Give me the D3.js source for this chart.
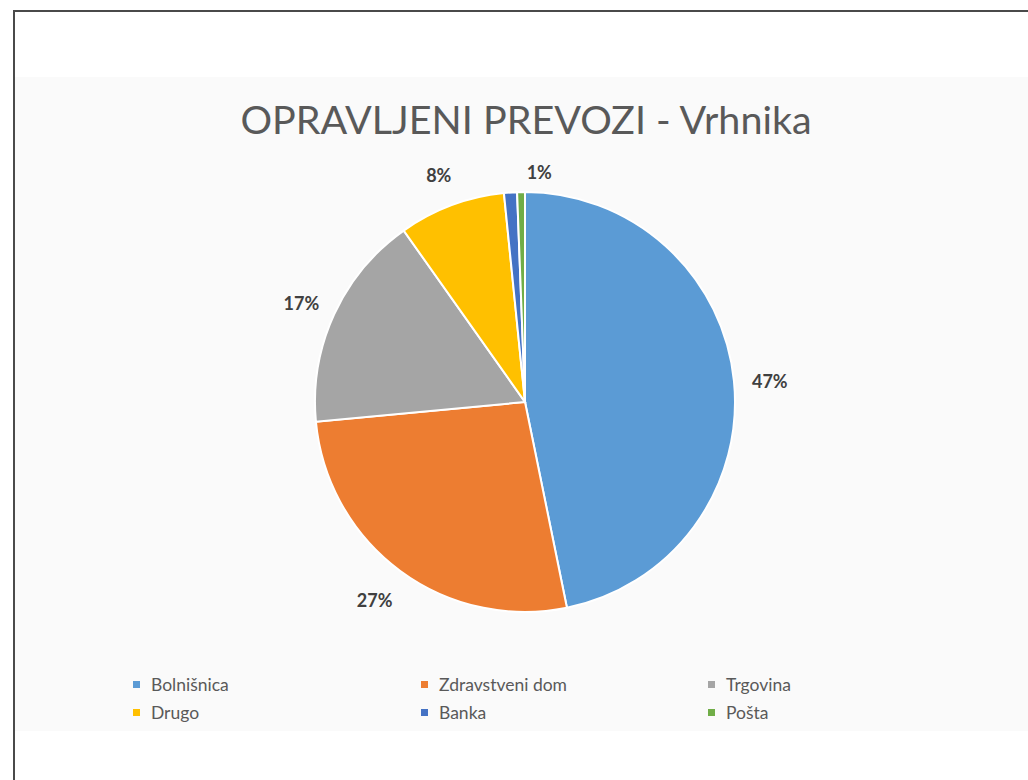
<!DOCTYPE html>
<html>
<head>
<meta charset="utf-8">
<script src="https://cdn.jsdelivr.net/npm/d3@7"></script>
<style>
  body { margin: 0; background: #fff; }
  svg { display: block; }
</style>
</head>
<body>
<div id="chart"></div>
<script>
// data (share of rides, %)
const categories = ["Bolnišnica", "Zdravstveni dom", "Trgovina", "Drugo", "Banka", "Pošta"];
const values = [46.8, 26.7, 16.7, 8.2, 1.0, 0.6];
const labels = ["47%", "27%", "17%", "8%", "1%", ""];
const colors = ["#5b9bd5", "#ed7d31", "#a5a5a5", "#ffc000", "#4472c4", "#70ad47"];
const title = "OPRAVLJENI PREVOZI - Vrhnika";

const width = 1028, height = 780;
const svg = d3.select("#chart").append("svg")
  .attr("width", width).attr("height", height);

// chart area background
svg.append("rect")
  .attr("x", 15).attr("y", 77)
  .attr("width", width - 15).attr("height", 654)
  .attr("fill", "#fafafa");

// frame (top + left)
svg.append("path")
  .attr("d", `M14,${height} L14,11 L${width},11`)
  .attr("fill", "none")
  .attr("stroke", "#4a4a4a")
  .attr("stroke-width", 2);

svg.append("text")
  .attr("x", 526).attr("y", 134)
  .attr("text-anchor", "middle")
  .attr("font-family", "Lato, 'Open Sans', sans-serif")
  .style("font-size", "39.5px")
  .attr("fill", "#595959")
  .text(title);

const cx = 525, cy = 402, r = 210;
const pie = d3.pie().sort(null).value(d => d.v);
const arcs = pie(categories.map((c, i) => ({c, v: values[i], i})));
const arc = d3.arc().innerRadius(0).outerRadius(r);

const g = svg.append("g").attr("transform", `translate(${cx},${cy})`);
g.selectAll("path")
  .data(arcs)
  .join("path")
  .attr("d", arc)
  .attr("fill", d => colors[d.data.i])
  .attr("stroke", "#fff")
  .attr("stroke-width", 2);

// outside-end labels
const nudge = [0, 0.02, 0, 0, 0.13, 0];
g.selectAll("text.lbl")
  .data(arcs)
  .join("text")
  .attr("class", "lbl")
  .attr("transform", d => {
    const a = (d.startAngle + d.endAngle) / 2 + nudge[d.data.i];
    const rr = d.data.i === 4 ? r + 24 : r + 36;
    return `translate(${Math.sin(a) * rr},${-Math.cos(a) * rr})`;
  })
  .attr("text-anchor", "middle")
  .attr("dy", "0.6em")
  .attr("font-family", "Lato, 'Open Sans', sans-serif")
  .attr("font-weight", "bold")
  .style("font-size", "18px")
  .attr("fill", "#404040")
  .text(d => labels[d.data.i]);

// legend 3 x 2
const colX = [137, 425, 712];
const rowY = [685, 713];
const lg = svg.append("g").selectAll("g")
  .data(categories)
  .join("g")
  .attr("transform", (d, i) => `translate(${colX[i % 3]},${rowY[Math.floor(i / 3)]})`);
lg.append("rect")
  .attr("x", -4).attr("y", -4)
  .attr("width", 7).attr("height", 7)
  .attr("fill", (d, i) => colors[i]);
lg.append("text")
  .attr("x", 14).attr("dy", "0.35em")
  .attr("font-family", "Lato, 'Open Sans', sans-serif")
  .style("font-size", "17.5px")
  .attr("fill", "#595959")
  .text(d => d);
</script>
</body>
</html>
